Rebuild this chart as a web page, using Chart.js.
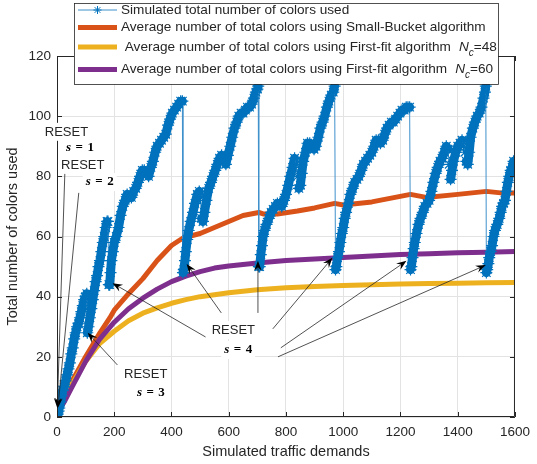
<!DOCTYPE html>
<html>
<head>
<meta charset="utf-8">
<script src="https://cdn.jsdelivr.net/npm/chart.js@4"></script>
<style>
  html, body { margin: 0; padding: 0; background: #ffffff; }
  #wrap { width: 537px; height: 464px; }
</style>
</head>
<body>
<div id="wrap"><canvas id="c" width="537" height="464"></canvas></div>
<script>
// ---- axis ticks ----
const xTicks = [0, 200, 400, 600, 800, 1000, 1200, 1400, 1600];
const yTicks = [0, 20, 40, 60, 80, 100, 120];

// ---- simulated total number of colours (one value per sampled demand) ----
const simDemand = [
  0, 2, 3, 5, 6,
  8, 12, 16, 20, 25, 30, 35, 40, 45, 50, 55, 60, 65, 70, 75, 80, 85, 90, 95, 100, 104,
  106, 110, 115, 120, 125, 130, 135, 140, 145, 150, 155, 160, 165, 170, 175, 178,
  181, 184, 187, 190, 195, 200, 207, 215, 222, 230, 238, 245, 252, 260, 268, 275, 283, 290, 298, 305, 313, 320,
  328, 335, 343, 350, 358, 365, 373, 380, 388, 395, 403, 410, 418, 425, 432, 438,
  440, 443, 447, 450, 455, 460, 467, 475, 482, 490, 497, 501, 505, 510, 515, 522, 530, 538, 545, 553, 560, 568,
  575, 583, 590, 597, 605, 612, 620, 628, 635, 643, 650, 658, 665, 673, 680, 688, 695, 700, 703,
  705, 708, 712, 716, 720, 725, 732, 740, 748, 755, 763, 770, 778, 785, 793, 800, 808, 815, 823, 830, 835, 840,
  845, 850, 855, 860, 868, 875, 883, 890, 898, 905, 913, 920, 928, 935, 943, 950, 958, 965, 970,
  973, 976, 980, 985, 990, 995, 1000, 1005, 1010, 1018, 1025, 1033, 1040, 1048, 1055, 1063, 1070, 1078, 1085,
  1093, 1100, 1108, 1115, 1123, 1130, 1138, 1145, 1153, 1160, 1168, 1175, 1183, 1190, 1198, 1205, 1213, 1220, 1226, 1232,
  1235, 1238, 1242, 1246, 1250, 1256, 1263, 1270, 1278, 1285, 1293, 1300, 1308, 1315, 1323, 1330, 1338, 1345, 1353,
  1360, 1366, 1370, 1375, 1380, 1385, 1393, 1400, 1408, 1415, 1420, 1425, 1430, 1435, 1440, 1445, 1453, 1460, 1468,
  1475, 1483, 1490, 1495, 1498,
  1500, 1503, 1507, 1510, 1515, 1520, 1525, 1530, 1538, 1545, 1550, 1555, 1560, 1565, 1570, 1575, 1580, 1585, 1590, 1595, 1600
];
const simColors = [
  1, 3, 1, 3, 2,
  3, 5, 7, 9, 10, 12, 14, 16, 18, 21, 23, 26, 28, 30, 31, 33, 35, 37, 39, 40, 41,
  28, 30, 33, 36, 39, 42, 45, 47, 50, 52, 55, 58, 60, 63, 65, 65,
  44, 44, 48, 52, 55, 58, 60, 63, 67, 70, 72, 74, 73, 73, 75, 76, 78, 80, 82, 82, 81, 80,
  83, 85, 88, 90, 91, 92, 93, 94, 97, 99, 101, 102, 103, 104, 105, 105,
  48, 49, 52, 55, 59, 62, 65, 68, 71, 74, 75, 73, 66, 65, 68, 72, 76, 78, 80, 82, 84, 86,
  87, 86, 84, 87, 90, 93, 96, 98, 100, 101, 101, 102, 103, 103, 104, 106, 108, 109, 110,
  50, 50, 54, 57, 60, 62, 64, 66, 68, 69, 70, 71, 71, 70, 72, 74, 77, 80, 83, 86, 84, 80,
  76, 77, 81, 85, 88, 91, 91, 90, 89, 90, 93, 96, 98, 100, 103, 105, 107, 108, 110,
  49, 50, 53, 55, 58, 61, 63, 66, 68, 71, 74, 76, 78, 79, 80, 82, 84, 85, 86,
  87, 88, 90, 92, 92, 91, 92, 94, 96, 97, 98, 98, 99, 100, 101, 102, 102, 103, 103, 103,
  49, 50, 53, 56, 58, 61, 64, 66, 68, 70, 71, 72, 75, 78, 81, 83, 85, 86, 88,
  90, 89, 84, 79, 82, 85, 88, 90, 91, 92, 90, 88, 85, 84, 88, 93, 96, 98, 100,
  101, 103, 106, 108, 110,
  48, 49, 51, 53, 55, 57, 60, 62, 64, 66, 68, 70, 71, 72, 75, 78, 80, 82, 83, 85, 84
];

// ---- average number of colours, Small-Bucket ----
const sbDemand = [0, 50, 100, 150, 185, 200, 250, 300, 350, 400, 440, 500, 550, 600, 650, 705, 720, 770, 840, 900, 970, 1000, 1100, 1235, 1290, 1400, 1500, 1550, 1600];
const sbColors = [3, 11.5, 20, 28, 33, 35.5, 41, 46, 52, 57, 59.5, 61, 63, 65, 67, 68, 67.5, 67.5, 68.5, 69.5, 71, 70.5, 71.5, 74, 73, 74, 75, 74.5, 74.5];

// ---- average number of colours, First-fit, Nc = 48 ----
const ff48Demand = [0, 25, 50, 75, 100, 150, 200, 250, 300, 350, 400, 450, 500, 600, 700, 800, 900, 1000, 1100, 1200, 1300, 1400, 1500, 1600];
const ff48Colors = [2, 6, 10.5, 14.5, 18.5, 24.5, 28.5, 32, 34.5, 36.3, 37.8, 39, 40, 41.3, 42.3, 43, 43.4, 43.7, 44, 44.2, 44.4, 44.5, 44.6, 44.7];

// ---- average number of colours, First-fit, Nc = 60 ----
const ff60Demand = [0, 25, 50, 75, 100, 150, 200, 250, 300, 350, 400, 450, 500, 550, 600, 700, 800, 900, 1000, 1100, 1200, 1300, 1400, 1500, 1600];
const ff60Colors = [1, 5, 9.5, 14, 18.5, 26, 31.5, 36, 39.5, 42.5, 45, 46.8, 48.3, 49.5, 50.2, 51.2, 52, 52.5, 53, 53.5, 54, 54.3, 54.6, 54.8, 55];

// ---- series names (legend) ----
const seriesLabels = [
  'Simulated total number of colors used',
  'Average number of total colors using Small-Bucket algorithm',
  ' Average number of total colors using First-fit algorithm',
  'Average number of total colors using First-fit algorithm'
];
const seriesNc = [null, null, '48', '60'];

// ---- RESET annotations: text anchors and arrows in data units ----
const noteTexts = [
  { kind: 'word', text: 'RESET', x: 33,  y: 94.8 },
  { kind: 'stage', s: '1',       x: 80,  y: 89.4 },
  { kind: 'word', text: 'RESET', x: 90,  y: 83.8 },
  { kind: 'stage', s: '2',       x: 149, y: 78.1 },
  { kind: 'word', text: 'RESET', x: 310, y: 14.3 },
  { kind: 'stage', s: '3',       x: 328, y: 8.1 },
  { kind: 'word', text: 'RESET', x: 616, y: 28.9 },
  { kind: 'stage', s: '4',       x: 633, y: 22.3 }
];
const noteArrows = [
  { from: [28, 82.8],  to: [1, 3] },
  { from: [76, 74.5],  to: [3, 3] },
  { from: [211, 17.3], to: [107, 28] },
  { from: [519, 26.6], to: [194, 44.5] },
  { from: [574, 34.6], to: [453, 50.9] },
  { from: [702, 34.6], to: [702, 51.9] },
  { from: [754, 29.3], to: [962, 52.9] },
  { from: [782, 23],   to: [1221, 51.9] },
  { from: [772, 20],   to: [1498, 50.5] }
];

const INK = '#262626';
const BLUE = '#0072BD';
const ORANGE = '#D95319';
const YELLOW = '#EDB120';
const PURPLE = '#7E2F8E';

const pts = (xs, ys) => xs.map((x, i) => ({ x: x, y: ys[i] }));

// axis box with inward ticks on all four sides
const framePlugin = {
  id: 'frame',
  afterDatasetsDraw(chart) {
    const { ctx, chartArea: a, scales } = chart;
    ctx.save();
    ctx.strokeStyle = INK;
    ctx.lineWidth = 1;
    ctx.beginPath();
    ctx.rect(a.left + 0.5, a.top + 0.5, a.right - a.left - 1, a.bottom - a.top - 1);
    const t = 5;
    xTicks.forEach(v => {
      const px = Math.round(scales.x.getPixelForValue(v)) + 0.5;
      ctx.moveTo(px, a.bottom); ctx.lineTo(px, a.bottom - t);
      ctx.moveTo(px, a.top); ctx.lineTo(px, a.top + t);
    });
    yTicks.forEach(v => {
      const py = Math.round(scales.y.getPixelForValue(v)) + 0.5;
      ctx.moveTo(a.left, py); ctx.lineTo(a.left + t, py);
      ctx.moveTo(a.right, py); ctx.lineTo(a.right - t, py);
    });
    ctx.stroke();
    ctx.restore();
  }
};

function drawStage(ctx, s, cx, cy, measureOnly) {
  const it = "italic bold 13px 'Liberation Serif'";
  const bd = "bold 13px 'Liberation Serif'";
  ctx.font = it; const w1 = ctx.measureText('s').width;
  ctx.font = bd; const w2 = ctx.measureText('=').width; const w3 = ctx.measureText(s).width;
  const gap = 4.5;
  const total = w1 + gap + w2 + gap + w3;
  if (measureOnly) return total;
  let x = cx - total / 2;
  ctx.textBaseline = 'middle'; ctx.textAlign = 'left'; ctx.fillStyle = '#000';
  ctx.font = it; ctx.fillText('s', x, cy); x += w1 + gap;
  ctx.font = bd; ctx.fillText('=', x, cy); x += w2 + gap;
  ctx.fillText(s, x, cy);
  return total;
}

// textarrows marking the reset stages
const notesPlugin = {
  id: 'notes',
  afterDatasetsDraw(chart) {
    const { ctx, scales } = chart;
    const X = v => scales.x.getPixelForValue(v);
    const Y = v => scales.y.getPixelForValue(v);
    ctx.save();
    noteArrows.forEach(a => {
      const x0 = X(a.from[0]), y0 = Y(a.from[1]);
      const x1 = X(a.to[0]), y1 = Y(a.to[1]);
      const ang = Math.atan2(y1 - y0, x1 - x0);
      const L = 10, W = 3.8;
      ctx.strokeStyle = INK; ctx.lineWidth = 0.8;
      ctx.beginPath(); ctx.moveTo(x0, y0);
      ctx.lineTo(x1 - Math.cos(ang) * L * 0.6, y1 - Math.sin(ang) * L * 0.6);
      ctx.stroke();
      ctx.save();
      ctx.translate(x1, y1); ctx.rotate(ang);
      ctx.fillStyle = '#000';
      ctx.beginPath();
      ctx.moveTo(0, 0); ctx.lineTo(-L, W); ctx.lineTo(-L * 0.65, 0); ctx.lineTo(-L, -W);
      ctx.closePath(); ctx.fill();
      ctx.restore();
    });
    noteTexts.forEach(n => {
      const cx = X(n.x), cy = Y(n.y);
      let w;
      if (n.kind === 'word') {
        ctx.font = "13px 'Liberation Sans'";
        w = ctx.measureText(n.text).width;
      } else {
        w = drawStage(ctx, n.s, cx, cy, true);
      }
      ctx.fillStyle = '#fff';
      ctx.fillRect(cx - w / 2 - 3, cy - 9, w + 6, 18);
      if (n.kind === 'word') {
        ctx.fillStyle = INK; ctx.textAlign = 'center'; ctx.textBaseline = 'middle';
        ctx.font = "13px 'Liberation Sans'";
        ctx.fillText(n.text, cx, cy + 0.5);
      } else {
        drawStage(ctx, n.s, cx, cy, false);
      }
    });
    ctx.restore();
  }
};

function drawAsterisk(ctx, x, y, r, color) {
  ctx.save();
  ctx.strokeStyle = color; ctx.lineWidth = 1;
  ctx.beginPath();
  ctx.moveTo(x - r, y); ctx.lineTo(x + r, y);
  ctx.moveTo(x, y - r); ctx.lineTo(x, y + r);
  const d = r * 0.7071;
  ctx.moveTo(x - d, y - d); ctx.lineTo(x + d, y + d);
  ctx.moveTo(x - d, y + d); ctx.lineTo(x + d, y - d);
  ctx.stroke();
  ctx.restore();
}

// legend box and axis titles
const legendPlugin = {
  id: 'legendBox',
  afterDraw(chart) {
    const { ctx, chartArea: a } = chart;
    ctx.save();
    // axis titles
    ctx.fillStyle = INK;
    ctx.textAlign = 'center'; ctx.textBaseline = 'middle';
    ctx.font = "14.5px 'Liberation Sans'";
    ctx.fillText('Simulated traffic demands', (a.left + a.right) / 2, 452);
    ctx.save();
    ctx.translate(13, (a.top + a.bottom) / 2);
    ctx.rotate(-Math.PI / 2);
    ctx.font = "14.5px 'Liberation Sans'";
    ctx.fillText('Total number of colors used', 0, 0);
    ctx.restore();

    // legend
    const bx = 74, by = 3, bw = 424, bh = 81;
    ctx.fillStyle = '#fff';
    ctx.fillRect(bx, by, bw, bh);
    ctx.strokeStyle = INK; ctx.lineWidth = 0.8;
    ctx.strokeRect(bx + 0.5, by + 0.5, bw, bh);
    const rows = [10, 27.5, 47, 69.5];
    const ds = chart.data.datasets;
    const F = 13.6;
    ds.forEach((d, i) => {
      const y = rows[i];
      ctx.lineCap = 'butt';
      if (i === 0) {
        ctx.strokeStyle = '#3f90cc'; ctx.lineWidth = 1;
        ctx.beginPath(); ctx.moveTo(78, y); ctx.lineTo(117, y); ctx.stroke();
        drawAsterisk(ctx, 97.5, y, 4, BLUE);
      } else {
        ctx.strokeStyle = d.borderColor; ctx.lineWidth = 5;
        ctx.beginPath(); ctx.moveTo(78, y); ctx.lineTo(117, y); ctx.stroke();
      }
      ctx.fillStyle = INK; ctx.textAlign = 'left'; ctx.textBaseline = 'middle';
      ctx.font = F + "px 'Liberation Sans'";
      ctx.fillText(seriesLabels[i], 121, y);
      if (seriesNc[i]) {
        let x = 121 + ctx.measureText(seriesLabels[i]).width + 8;
        ctx.font = "italic " + F + "px 'Liberation Sans'";
        ctx.fillText('N', x, y);
        x += ctx.measureText('N').width;
        ctx.font = "italic 10px 'Liberation Sans'";
        ctx.fillText('c', x, y + 6);
        x += ctx.measureText('c').width;
        ctx.font = F + "px 'Liberation Sans'";
        ctx.fillText('=' + seriesNc[i], x, y);
      }
    });
    ctx.restore();
  }
};

new Chart(document.getElementById('c'), {
  type: 'line',
  data: {
    datasets: [
      {
        label: seriesLabels[0],
        data: pts(simDemand, simColors),
        borderColor: BLUE,
        borderWidth: 9,
        borderJoinStyle: 'round',
        borderCapStyle: 'round',
        segment: {
          borderWidth: c => (c.p1.parsed.y < c.p0.parsed.y - 1.5 ? 1 : 9),
          borderColor: c => (c.p1.parsed.y < c.p0.parsed.y - 1.5 ? '#3f90cc' : BLUE)
        },
        pointStyle: 'star',
        pointRadius: 6,
        pointBorderWidth: 1.2,
        pointBorderColor: BLUE,
        pointBackgroundColor: BLUE,
        tension: 0,
        order: 0
      },
      {
        label: seriesLabels[1],
        data: pts(sbDemand, sbColors),
        borderColor: ORANGE, borderWidth: 5, borderJoinStyle: 'round',
        pointRadius: 0, tension: 0, order: 3
      },
      {
        label: seriesLabels[2],
        data: pts(ff48Demand, ff48Colors),
        borderColor: YELLOW, borderWidth: 5, borderJoinStyle: 'round',
        pointRadius: 0, tension: 0, order: 2
      },
      {
        label: seriesLabels[3],
        data: pts(ff60Demand, ff60Colors),
        borderColor: PURPLE, borderWidth: 5, borderJoinStyle: 'round',
        pointRadius: 0, tension: 0, order: 1
      }
    ]
  },
  options: {
    responsive: false,
    animation: false,
    devicePixelRatio: 1,
    layout: { padding: { top: 56, right: 18, left: 0, bottom: 0 } },
    plugins: { legend: { display: false }, tooltip: { enabled: false } },
    scales: {
      x: {
        type: 'linear', min: 0, max: 1600,
        afterBuildTicks: s => { s.ticks = xTicks.map(v => ({ value: v })); },
        afterFit: s => { s.height = 47; },
        ticks: { color: INK, font: { family: 'Liberation Sans', size: 13.5 }, padding: 7, maxRotation: 0, autoSkip: false, callback: v => String(v) },
        grid: { color: '#e3e3e3', drawTicks: false },
        border: { display: false }
      },
      y: {
        type: 'linear', min: 0, max: 120,
        afterBuildTicks: s => { s.ticks = yTicks.map(v => ({ value: v })); },
        afterFit: s => { s.width = 57; },
        ticks: { color: INK, font: { family: 'Liberation Sans', size: 13.5 }, padding: 6, autoSkip: false, callback: v => String(v) },
        grid: { color: '#e3e3e3', drawTicks: false },
        border: { display: false }
      }
    }
  },
  plugins: [framePlugin, notesPlugin, legendPlugin]
});
</script>
</body>
</html>
